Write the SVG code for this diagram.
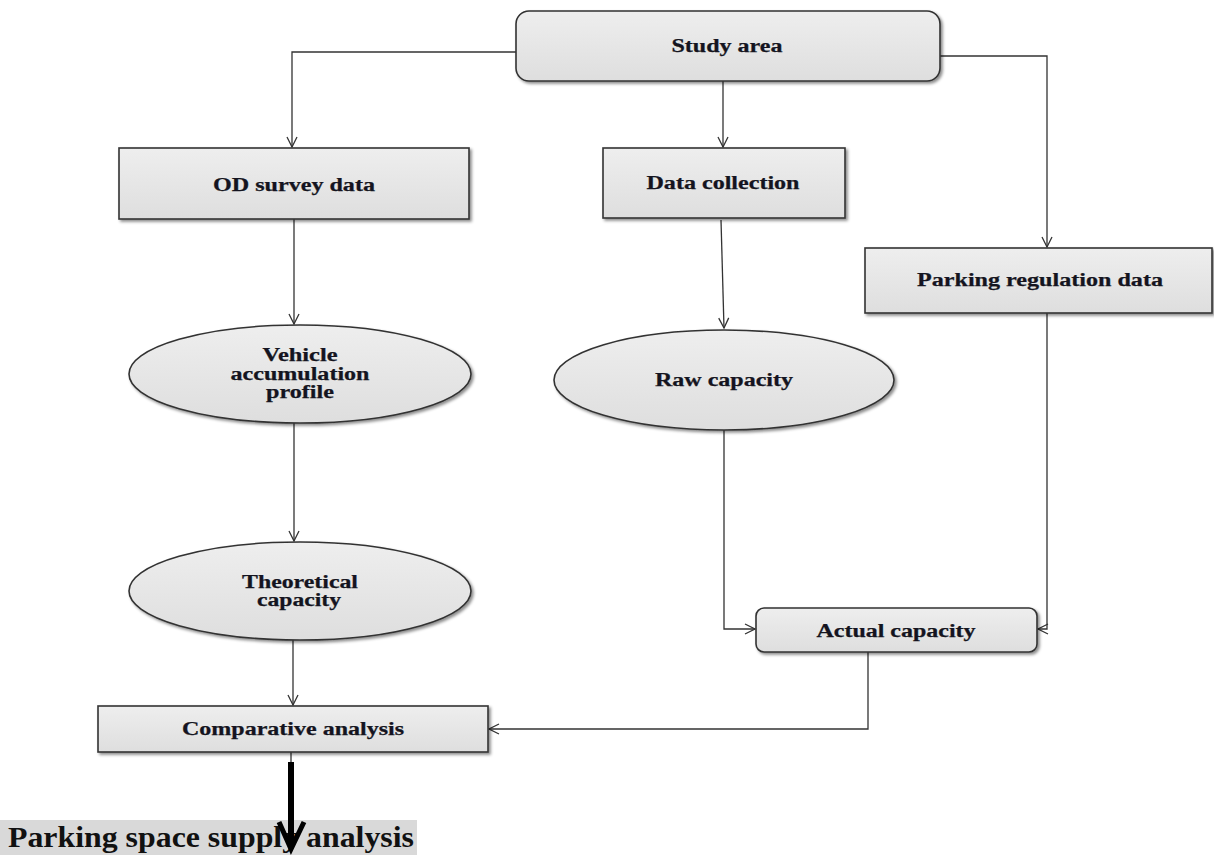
<svg xmlns="http://www.w3.org/2000/svg" width="1214" height="855" viewBox="0 0 1214 855">
<style>
.node{fill:url(#g);stroke:#333;stroke-width:1.6;filter:url(#sh)}
.t{font-family:"Liberation Serif","Times New Roman",serif;font-weight:bold;font-size:18px;fill:#141420;stroke:#141420;stroke-width:0.25;text-anchor:middle}
.c{fill:none;stroke:#333;stroke-width:1.3}
</style>
<defs>
<linearGradient id="g" x1="0" y1="0" x2="0" y2="1">
<stop offset="0" stop-color="#eeeeee"/>
<stop offset="1" stop-color="#dedede"/>
</linearGradient>
<filter id="sh" x="-10%" y="-20%" width="125%" height="150%">
<feDropShadow dx="2" dy="2" stdDeviation="1.5" flood-color="#000" flood-opacity="0.45"/>
</filter>
<marker id="a" viewBox="0 0 12 12" refX="11" refY="6" markerWidth="12" markerHeight="12" markerUnits="userSpaceOnUse" orient="auto">
<path d="M1,1 L11,6 L1,11" fill="none" stroke="#333" stroke-width="1.3"/>
</marker>
</defs>

<g id="connectors">
<path class="c" d="M516 52 H292 V147" marker-end="url(#a)"/>
<path class="c" d="M723 81 V147" marker-end="url(#a)"/>
<path class="c" d="M940 56 H1047 V247" marker-end="url(#a)"/>
<path class="c" d="M294 219 V324" marker-end="url(#a)"/>
<path class="c" d="M721 220 L724 328" marker-end="url(#a)"/>
<path class="c" d="M294 423 V541" marker-end="url(#a)"/>
<path class="c" d="M293 640 V705" marker-end="url(#a)"/>
<path class="c" d="M724 430 V629 H755" marker-end="url(#a)"/>
<path class="c" d="M1047 313 V629 H1038" marker-end="url(#a)"/>
<path class="c" d="M868 652 V729 H489" marker-end="url(#a)"/>
<path class="c" d="M291 752 V762"/>
</g>

<g id="study-area">
<rect class="node" x="516" y="11" width="424" height="70" rx="13"/>
<text class="t" x="727" y="52" textLength="111" lengthAdjust="spacingAndGlyphs">Study area</text>
</g>
<g id="od-survey">
<rect class="node" x="119" y="148" width="350" height="71"/>
<text class="t" x="294" y="191" textLength="162" lengthAdjust="spacingAndGlyphs">OD survey data</text>
</g>
<g id="data-collection">
<rect class="node" x="603" y="148" width="242" height="70"/>
<text class="t" x="723" y="189" textLength="153" lengthAdjust="spacingAndGlyphs">Data collection</text>
</g>
<g id="parking-regulation">
<rect class="node" x="865" y="248" width="347" height="65"/>
<text class="t" x="1040" y="286" textLength="246" lengthAdjust="spacingAndGlyphs">Parking regulation data</text>
</g>
<g id="vehicle-accumulation">
<ellipse class="node" cx="300" cy="374" rx="171" ry="49"/>
<text class="t" x="300" y="361" textLength="75" lengthAdjust="spacingAndGlyphs">Vehicle</text>
<text class="t" x="300" y="380" textLength="139" lengthAdjust="spacingAndGlyphs">accumulation</text>
<text class="t" x="300" y="398" textLength="68" lengthAdjust="spacingAndGlyphs">profile</text>
</g>
<g id="raw-capacity">
<ellipse class="node" cx="724" cy="380" rx="170" ry="50"/>
<text class="t" x="724" y="386" textLength="138" lengthAdjust="spacingAndGlyphs">Raw capacity</text>
</g>
<g id="theoretical-capacity">
<ellipse class="node" cx="300" cy="591" rx="171" ry="49"/>
<text class="t" x="300" y="588" textLength="116" lengthAdjust="spacingAndGlyphs">Theoretical</text>
<text class="t" x="299" y="606" textLength="84" lengthAdjust="spacingAndGlyphs">capacity</text>
</g>
<g id="actual-capacity">
<rect class="node" x="756" y="608" width="281" height="44" rx="8"/>
<text class="t" x="896" y="637" textLength="159" lengthAdjust="spacingAndGlyphs">Actual capacity</text>
</g>
<g id="comparative-analysis">
<rect class="node" x="98" y="706" width="390" height="46"/>
<text class="t" x="293" y="735" textLength="222" lengthAdjust="spacingAndGlyphs">Comparative analysis</text>
</g>
<g id="parking-space-supply">
<rect x="0" y="820" width="417" height="35" fill="#d9d9d9"/>
<text x="8" y="847" font-family="'Liberation Serif','Times New Roman',serif" font-weight="bold" font-size="29" fill="#111" textLength="406" lengthAdjust="spacingAndGlyphs">Parking space supply analysis</text>
</g>
<g id="bold-arrow">
<path d="M291 762 V846" stroke="#000" stroke-width="6" fill="none"/>
<path d="M279 822 L291 849 L304 822" stroke="#000" stroke-width="5" fill="none" stroke-linejoin="miter"/>
</g>
</svg>
